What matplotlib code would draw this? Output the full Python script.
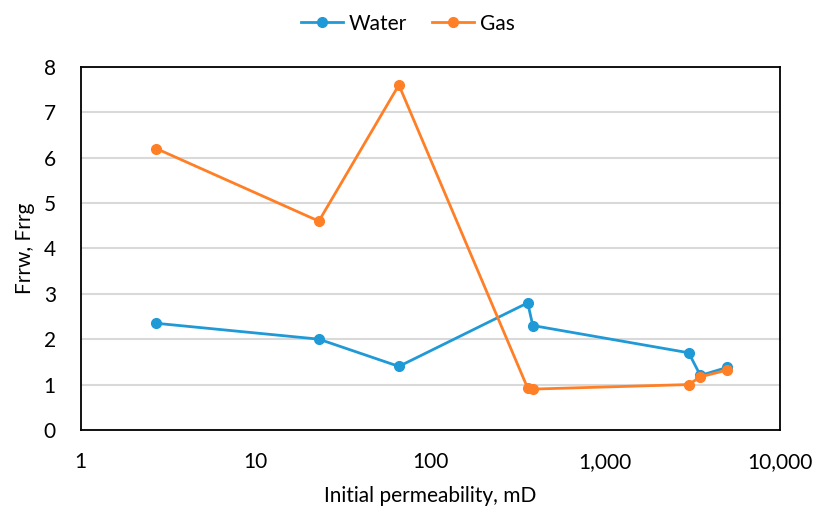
import matplotlib.pyplot as plt
from matplotlib.ticker import FixedLocator, FuncFormatter

plt.rcParams['font.family'] = ['Lato', 'DejaVu Sans']

perm = [2.7, 23, 66, 360, 385, 3000, 3500, 5000]
water = [2.35, 2.0, 1.4, 2.8, 2.3, 1.7, 1.2, 1.38]
gas = [6.2, 4.6, 7.6, 0.92, 0.9, 1.0, 1.17, 1.32]
x_ticks = [1, 10, 100, 1000, 10000]

fig = plt.figure(figsize=(8.16, 5.18), dpi=100)
ax = fig.add_axes([0.099, 0.170, 0.857, 0.701])

ax.plot(perm, water, color='#1f9ad6', lw=2, marker='o', ms=7, label='Water', zorder=3)
ax.plot(perm, gas, color='#ff7f27', lw=2, marker='o', ms=7, label='Gas', zorder=3)

ax.set_xscale('log')
ax.set_xlim(1, 10000)
ax.set_ylim(0, 8)
ax.xaxis.set_major_locator(FixedLocator(x_ticks))
ax.xaxis.set_minor_locator(FixedLocator([]))
ax.xaxis.set_major_formatter(FuncFormatter(lambda v, p: f'{int(round(v)):,}'))
ax.set_yticks(range(0, 9))
ax.grid(axis='y', color='#d9d9d9', lw=1.5, zorder=0)
ax.tick_params(length=0, labelsize=15)
ax.tick_params(axis='x', pad=16)
ax.tick_params(axis='y', pad=18)
for s in ax.spines.values():
    s.set_color('black')
    s.set_linewidth(1.3)

ax.set_xlabel('Initial permeability, mD', fontsize=15, labelpad=10)
ax.set_ylabel('Frrw, Frrg', fontsize=15, labelpad=6)

fig.legend(loc='upper center', bbox_to_anchor=(0.5, 1.01), ncol=2, frameon=False,
           fontsize=15, handlelength=2, columnspacing=1.2, handletextpad=0.3)

fig.savefig('out.png', dpi=100)
